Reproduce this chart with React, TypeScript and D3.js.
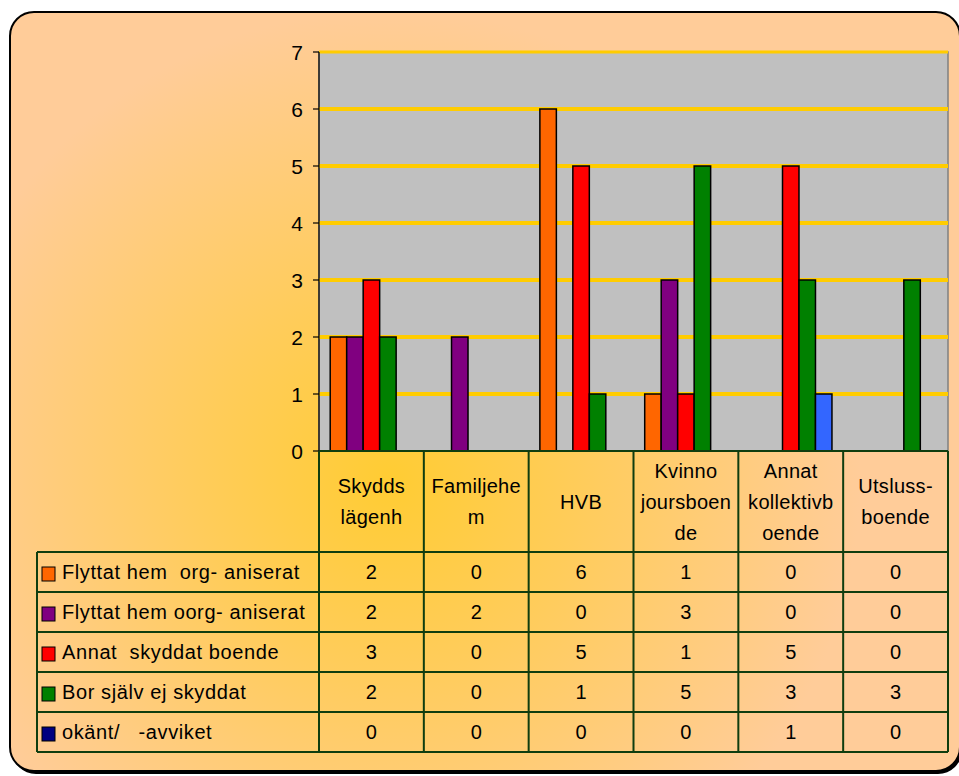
import * as d3 from "d3";

// Categories (row of the data table) and the wrapped lines shown in each header cell
const categories = ["Skyddslägenh", "Familjehem", "HVB", "Kvinnojoursboende", "Annat kollektivboende", "Utslussboende"];
const categoryLines = [
  ["Skydds", "lägenh"],
  ["Familjehe", "m"],
  ["HVB"],
  ["Kvinno", "joursboen", "de"],
  ["Annat", "kollektivb", "oende"],
  ["Utsluss-", "boende"],
];

const seriesNames = [
  "Flyttat hem  org- aniserat",
  "Flyttat hem oorg- aniserat",
  "Annat  skyddat boende",
  "Bor själv ej skyddat",
  "okänt/   -avviket",
];

const flyttatOrg = [2, 0, 6, 1, 0, 0];
const flyttatOorg = [2, 2, 0, 3, 0, 0];
const annatSkyddat = [3, 0, 5, 1, 5, 0];
const borSjalv = [2, 0, 1, 5, 3, 3];
const okant = [0, 0, 0, 0, 1, 0];

const seriesValues = [flyttatOrg, flyttatOorg, annatSkyddat, borSjalv, okant];
const barColors = ["#FF6600", "#800080", "#FF0000", "#008000", "#3366FF"];
const keyColors = ["#FF6600", "#800080", "#FF0000", "#008000", "#000080"];

const yTicks = [0, 1, 2, 3, 4, 5, 6, 7];

const FONT = "'Liberation Sans', Arial, sans-serif";
const GRID = "#0F3D0F";
const FS = 20;

export default function App() {
  const width = 959;
  const height = 776;
  const plot = { left: 319, right: 948, top: 52, bottom: 451 };
  const legendLeft = 37;
  const tableBottom = 752;

  const x0 = d3.scaleBand<string>().domain(categories).range([plot.left, plot.right]);
  const x1 = d3
    .scaleBand<string>()
    .domain(seriesNames)
    .range([0, x0.bandwidth()])
    .paddingOuter(0.68);
  const y = d3.scaleLinear().domain([0, 7]).range([plot.bottom, plot.top]);
  const rows = d3.scaleBand<string>().domain(seriesNames).range([552, tableBottom]);

  const colEdges = categories.map((c) => x0(c)!).concat([plot.right]);

  return (
    <svg
      width={width}
      height={height}
      style={{ position: "absolute", left: 0, top: 0, fontFamily: FONT }}
    >
      <defs>
        <radialGradient id="bg" gradientUnits="userSpaceOnUse" cx={390} cy={480} r={470}>
          <stop offset="0" stopColor="#FFCC33" />
          <stop offset="0.4" stopColor="#FFCC5A" />
          <stop offset="1" stopColor="#FFCC99" />
        </radialGradient>
      </defs>

      {/* Frame */}
      <rect x={12} y={15} width={950} height={759} rx={24} fill="#000" />
      <rect x={10} y={12} width={950} height={759} rx={24} fill="url(#bg)" stroke="#000" strokeWidth={2} />

      {/* Plot area */}
      <rect
        x={plot.left}
        y={plot.top}
        width={plot.right - plot.left}
        height={plot.bottom - plot.top}
        fill="#C0C0C0"
        stroke="#808080"
        strokeWidth={1.5}
      />
      {yTicks
        .filter((t) => t > 0)
        .map((t) => (
          <line
            key={`g${t}`}
            x1={plot.left}
            x2={plot.right}
            y1={y(t)}
            y2={y(t)}
            stroke="#FFCC00"
            strokeWidth={t === 7 ? 3 : 4}
          />
        ))}

      {/* Bars */}
      {seriesValues.map((vals, si) =>
        vals.map((v, ci) =>
          v > 0 ? (
            <rect
              key={`b${si}-${ci}`}
              x={x0(categories[ci])! + x1(seriesNames[si])!}
              y={y(v)}
              width={x1.bandwidth()}
              height={y(0) - y(v)}
              fill={barColors[si]}
              stroke="#000"
              strokeWidth={1.5}
            />
          ) : null
        )
      )}

      {/* Y axis */}
      <line x1={plot.left} x2={plot.left} y1={plot.top} y2={plot.bottom} stroke="#000" strokeWidth={1.2} />
      {yTicks.map((t) => (
        <g key={`t${t}`}>
          <line x1={plot.left - 6} x2={plot.left} y1={y(t)} y2={y(t)} stroke="#000" strokeWidth={1.2} />
          <text x={plot.left - 16} y={y(t)} dy="0.36em" textAnchor="end" fontSize={FS + 1} fill="#000">
            {t}
          </text>
        </g>
      ))}

      {/* Data table */}
      <g stroke={GRID} strokeWidth={2} fill="none">
        <line x1={plot.left} x2={plot.right} y1={plot.bottom} y2={plot.bottom} />
        {seriesNames.map((s) => (
          <line key={`h${s}`} x1={legendLeft} x2={plot.right} y1={rows(s)!} y2={rows(s)!} />
        ))}
        <line x1={legendLeft} x2={plot.right} y1={tableBottom} y2={tableBottom} />
        <line x1={legendLeft} x2={legendLeft} y1={rows(seriesNames[0])!} y2={tableBottom} />
        {colEdges.map((cx, i) => (
          <line key={`v${i}`} x1={cx} x2={cx} y1={plot.bottom} y2={tableBottom} />
        ))}
      </g>

      {/* Header cells */}
      {categories.map((c, ci) => {
        const lines = categoryLines[ci];
        const cx = x0(c)! + x0.bandwidth() / 2;
        const cy = (plot.bottom + rows(seriesNames[0])!) / 2;
        const lh = 31;
        return (
          <text key={`c${c}`} textAnchor="middle" fontSize={FS} letterSpacing={0.3} fill="#000">
            {lines.map((ln, li) => (
              <tspan key={li} x={cx} y={cy + (li - (lines.length - 1) / 2) * lh} dy="0.36em">
                {ln}
              </tspan>
            ))}
          </text>
        );
      })}

      {/* Legend rows and values */}
      {seriesNames.map((s, si) => {
        const ry = rows(s)! + rows.bandwidth() / 2;
        return (
          <g key={`r${s}`}>
            <rect x={42} y={ry - 5} width={13} height={14} fill={keyColors[si]} stroke="#000" strokeWidth={1} />
            <text
              x={62}
              y={ry}
              dy="0.36em"
              fontSize={FS}
              letterSpacing={0.6}
              fill="#000"
              style={{ whiteSpace: "pre" }}
            >
              {s}
            </text>
            {seriesValues[si].map((v, ci) => (
              <text
                key={`v${ci}`}
                x={x0(categories[ci])! + x0.bandwidth() / 2}
                y={ry}
                dy="0.36em"
                textAnchor="middle"
                fontSize={FS}
                fill="#000"
              >
                {v}
              </text>
            ))}
          </g>
        );
      })}
    </svg>
  );
}
